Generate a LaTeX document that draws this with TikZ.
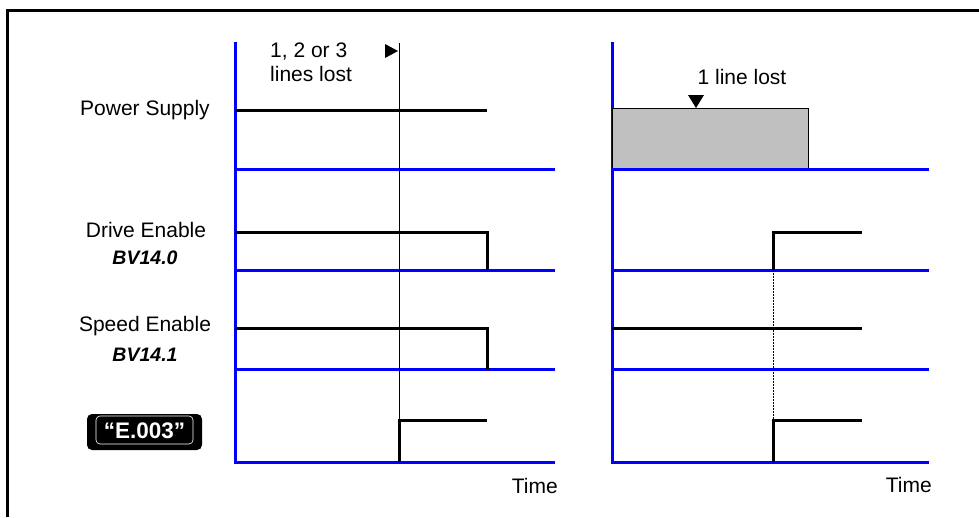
\documentclass[tikz,border=0pt]{standalone}
\usepackage{fontspec}
\setmainfont{Liberation Sans}
\usetikzlibrary{calc}
\definecolor{axisblue}{RGB}{0,0,255}
\definecolor{boxgray}{RGB}{192,192,192}
\tikzset{
  axis/.style={draw=axisblue,line width=3pt},
  sig/.style={draw=black,line width=3pt},
  marker/.style={draw=black,line width=0.9pt},
  lbl/.style={inner sep=0pt,font=\fontsize{21}{24}\selectfont},
  sublbl/.style={inner sep=0pt,font=\fontsize{19.5}{22}\selectfont\bfseries\itshape},
  tri/.style={fill=black,draw=none},
}
\begin{document}
\begin{tikzpicture}[x=1pt,y=-1pt]
\useasboundingbox (0,0) rectangle (979,517);
% frame
\draw[line width=3pt] (7.5,517) -- (7.5,10) -- (979,10);

% ---------- left panel ----------
\coordinate (LA) at (235,42);
\draw[axis] (LA) -- (235,463.5);
\foreach \yy in {169,270,369,462} \draw[axis] (235,\yy) -- (555,\yy);
% power supply
\draw[sig] (235,110) -- (487,110);
% drive enable
\draw[sig] (235,232) -- (487,232) -- (487,270);
% speed enable
\draw[sig] (235,328) -- (487,328) -- (487,369);
% E.003
\draw[sig] (399.5,462) -- (399.5,420) -- (487,420);
% event line
\coordinate (EvTop) at (399,43);
\coordinate (EvBot) at (399,462);
\draw[marker] (EvTop) -- (EvBot);
\fill[tri] (385,44) -- (398,51) -- (385,58) -- cycle;
\node[lbl,anchor=west,align=left] (lost3) at (270,62) {1, 2 or 3\\lines lost};

% labels
\node[lbl] (ps) at (145,110) {Power Supply};
\node[lbl] (de) at (146,230) {Drive Enable};
\node[sublbl] (bv0) at (145,258) {BV14.0};
\node[lbl] (se) at (145,326) {Speed Enable};
\node[sublbl] (bv1) at (145,355) {BV14.1};
\node[fill=black,rounded corners=5pt,minimum width=115pt,minimum height=36pt,inner sep=0pt] (ebox) at (144.5,432) {};
\node[draw=white,line width=0.6pt,rounded corners=4pt,minimum width=97pt,minimum height=28pt,inner sep=0pt] (eframe) at (144.5,430) {};
\node[inner sep=0pt,anchor=base,text=white,font=\fontsize{22.5}{26}\selectfont\bfseries] (etext) at (144.5,438) {“E.003”};
\node[lbl,anchor=east] (time1) at (558,486) {Time};

% ---------- right panel ----------
\draw[axis] (612,42) -- (612,463.5);
\draw[draw=black,line width=0.8pt,fill=boxgray] (612,108) rectangle (808,168);
\foreach \yy in {169,270,369,462} \draw[axis] (612,\yy) -- (929,\yy);
\fill[tri] (688,95) -- (704,95) -- (696,108) -- cycle;
\node[lbl] (lost1) at (742,77) {1 line lost};
% drive enable
\draw[sig] (773.5,270) -- (773.5,232) -- (862,232);
% speed enable
\draw[sig] (612,328) -- (862,328);
% E.003
\draw[sig] (773.5,462) -- (773.5,420) -- (862,420);
\draw[line width=0.7pt,dashed,dash pattern=on 2pt off 1pt] (773.5,270) -- (773.5,420);
\node[lbl,anchor=east] (time2) at (932,485) {Time};
\end{tikzpicture}
\end{document}
